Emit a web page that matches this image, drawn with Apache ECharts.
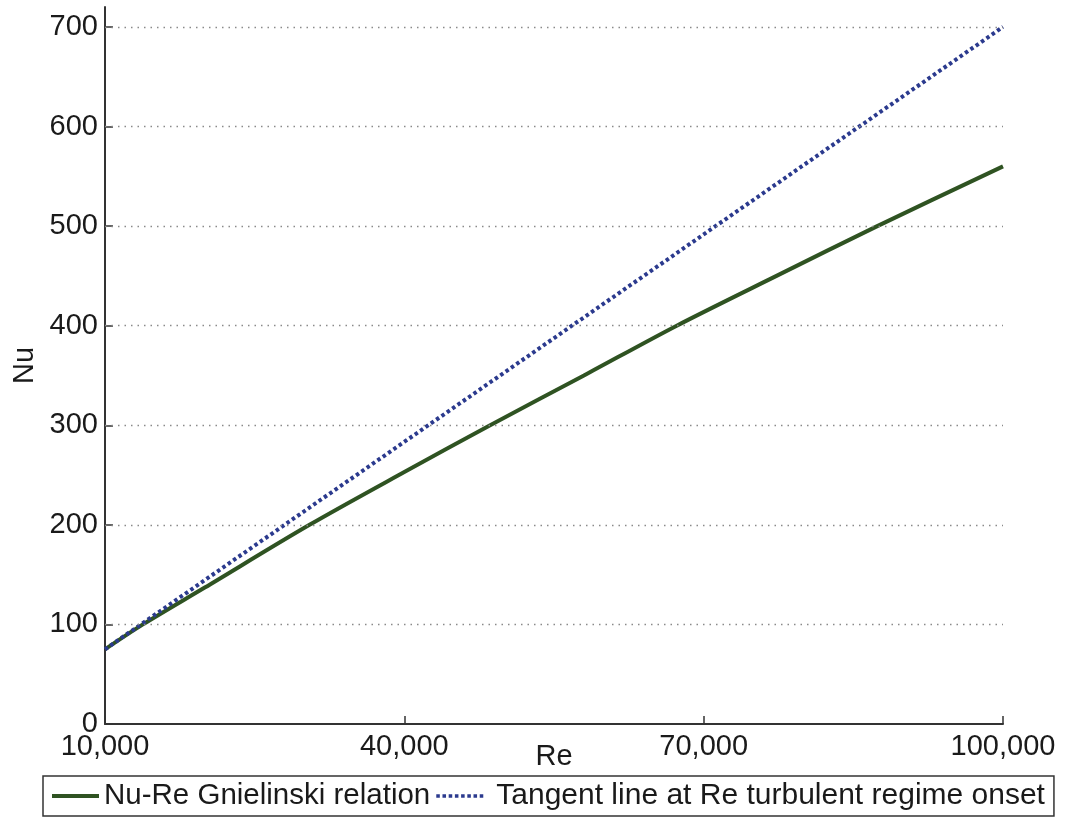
<!DOCTYPE html>
<html><head><meta charset="utf-8">
<script src="https://cdn.jsdelivr.net/npm/echarts@6/dist/echarts.min.js"></script>
<style>html,body{margin:0;padding:0;background:#fff}#c{width:1068px;height:821px}</style>
</head><body><div id="c"></div>
<script>
// Data
const gnielinskiRe = [10000, 13800, 20000, 30500, 40000, 48600, 58000, 67300, 77300, 87400, 100000];
const gnielinskiNu = [75, 100, 137, 200, 253, 300, 350, 400, 450, 500, 560];
const tangentRe = [10000, 100000];
const tangentNu = [75, 700];
const xTicks = [10000, 40000, 70000, 100000];
const yTicks = [0, 100, 200, 300, 400, 500, 600, 700];
const seriesNames = ['Nu-Re Gnielinski relation', 'Tangent line at Re turbulent regime onset'];

const font = 'Liberation Sans, Arial, Helvetica, sans-serif';
const fmt = v => String(v).replace(/\B(?=(\d{3})+(?!\d))/g, ',');
const zip = (a, b) => a.map((v, i) => [v, b[i]]);
const GREEN = '#2f5322';
const BLUE = '#2b3a8e';
const dotsIcon = 'path://M0,0h4v4h-4z M7,0h4v4h-4z M14,0h4v4h-4z M21,0h4v4h-4z M28,0h4v4h-4z M35,0h4v4h-4z M42,0h4v4h-4z M49,0h4v4h-4z';

const chart = echarts.init(document.getElementById('c'));
chart.setOption({
  animation: false,
  backgroundColor: '#fff',
  grid: {left: 105, right: 65, top: 7, bottom: 97},
  xAxis: {
    type: 'value', min: 10000, max: 100000,
    name: 'Re', nameLocation: 'middle', nameGap: 18, nameMoveOverlap: false,
    nameTextStyle: {fontFamily: font, fontSize: 29, color: '#1a1a1a', verticalAlign: 'top'},
    axisLine: {lineStyle: {color: '#333', width: 2}},
    axisTick: {inside: true, length: 8, customValues: xTicks, lineStyle: {color: '#333', width: 1.5}},
    axisLabel: {customValues: xTicks, formatter: fmt, fontFamily: font, fontSize: 29, color: '#1a1a1a', margin: 8},
    splitLine: {show: false}
  },
  yAxis: {
    type: 'value', min: 0, max: 720,
    name: 'Nu', nameLocation: 'middle', nameGap: 66, nameRotate: 90, nameMoveOverlap: false,
    nameTextStyle: {fontFamily: font, fontSize: 29, color: '#1a1a1a'},
    axisLine: {show: true, lineStyle: {color: '#333', width: 2}},
    axisTick: {show: true, inside: true, length: 8, customValues: yTicks, lineStyle: {color: '#333', width: 1.5}},
    axisLabel: {customValues: yTicks, fontFamily: font, fontSize: 29, color: '#1a1a1a', margin: 7},
    splitLine: {show: false}
  },
  legend: {
    left: 43, top: 776,
    padding: [5, 9, 5, 9],
    borderColor: '#333', borderWidth: 1.5,
    itemWidth: 47, itemHeight: 4, itemGap: 6,
    textStyle: {fontFamily: font, fontSize: 29.5, color: '#1a1a1a'},
    data: [
      {name: seriesNames[0], icon: 'rect'},
      {name: seriesNames[1], icon: dotsIcon, textStyle: {fontSize: 30, padding: [0, 0, 0, 8]}}
    ]
  },
  series: [
    {
      name: 'grid', type: 'line', data: [], silent: true,
      markLine: {
        silent: true, symbol: 'none', label: {show: false},
        lineStyle: {color: '#8a8a8a', type: [1.5, 5], width: 1.3},
        data: yTicks.filter(v => v > 0).map(v => ({yAxis: v}))
      }
    },
    {
      name: seriesNames[0], type: 'line', data: zip(gnielinskiRe, gnielinskiNu),
      smooth: 0.3, showSymbol: false, symbol: 'none', z: 3,
      lineStyle: {color: GREEN, width: 4}, itemStyle: {color: GREEN}
    },
    {
      name: seriesNames[1], type: 'line', data: zip(tangentRe, tangentNu),
      showSymbol: false, symbol: 'none', z: 4,
      lineStyle: {color: BLUE, width: 4, type: [3.5, 3]}, itemStyle: {color: BLUE}
    }
  ]
});
</script></body></html>
